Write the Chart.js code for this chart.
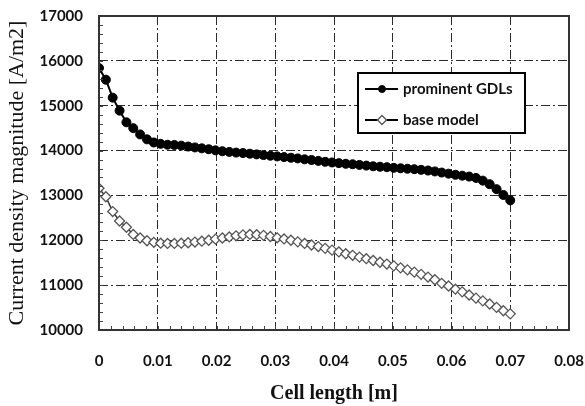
<!DOCTYPE html>
<html>
<head>
<meta charset="utf-8">
<script src="https://cdn.jsdelivr.net/npm/chart.js@4.4.0/dist/chart.umd.min.js"></script>
<style>
  html, body { margin: 0; padding: 0; background: #fff; }
  #wrap { width: 585px; height: 406px; }
</style>
</head>
<body>
<div id="wrap"><canvas id="chart" width="585" height="406"></canvas></div>
<script>
// --- Data ---
const cellLength = [0, 0.00117, 0.00233, 0.0035, 0.00467, 0.00583, 0.007, 0.00817, 0.00933, 0.0105,
  0.01167, 0.01283, 0.014, 0.01517, 0.01633, 0.0175, 0.01867, 0.01983, 0.021, 0.02217,
  0.02333, 0.0245, 0.02567, 0.02683, 0.028, 0.02917, 0.03033, 0.0315, 0.03267, 0.03383,
  0.035, 0.03617, 0.03733, 0.0385, 0.03967, 0.04083, 0.042, 0.04317, 0.04433, 0.0455,
  0.04667, 0.04783, 0.049, 0.05017, 0.05133, 0.0525, 0.05367, 0.05483, 0.056, 0.05717,
  0.05833, 0.0595, 0.06067, 0.06183, 0.063, 0.06417, 0.06533, 0.0665, 0.06767, 0.06883, 0.07];

const prominentGDLs = [15840, 15580, 15180, 14890, 14630, 14500, 14360, 14250, 14180, 14150,
  14130, 14125, 14110, 14090, 14070, 14050, 14030, 14005, 13985, 13970,
  13955, 13945, 13930, 13915, 13900, 13885, 13870, 13855, 13840, 13825,
  13805, 13790, 13770, 13750, 13735, 13720, 13705, 13695, 13680, 13665,
  13650, 13640, 13630, 13615, 13605, 13595, 13585, 13570, 13555, 13535,
  13510, 13485, 13460, 13440, 13420, 13390, 13330, 13250, 13140, 13010, 12890];

const baseModel = [13160, 12970, 12640, 12430, 12290, 12130, 12050, 11990, 11955, 11935,
  11930, 11930, 11935, 11945, 11960, 11980, 12000, 12025, 12050, 12075,
  12100, 12120, 12130, 12125, 12110, 12085, 12055, 12030, 12000, 11965,
  11930, 11895, 11860, 11820, 11780, 11740, 11700, 11665, 11625, 11590,
  11550, 11510, 11470, 11430, 11385, 11340, 11290, 11240, 11180, 11120,
  11040, 10980, 10910, 10850, 10780, 10710, 10650, 10580, 10505, 10430, 10360];

const xTicks = [0, 0.01, 0.02, 0.03, 0.04, 0.05, 0.06, 0.07, 0.08];
const xTickLabels = ['0', '0.01', '0.02', '0.03', '0.04', '0.05', '0.06', '0.07', '0.08'];
const yTicks = [10000, 11000, 12000, 13000, 14000, 15000, 16000, 17000];
const yTickLabels = ['10000', '11000', '12000', '13000', '14000', '15000', '16000', '17000'];
const xMinorStep = 0.002;
const yMinorStep = 200;

const seriesNames = ['prominent GDLs', 'base model'];

const tickFont = { family: 'Lato', size: 15, weight: 'bold' };
const gridColor = '#2a2a2a';

// --- Plugins: frame, minor ticks, legend box ---
const framePlugin = {
  id: 'frame',
  afterDatasetsDraw(chart) {
    const { ctx, chartArea: a, scales } = chart;
    ctx.save();
    // minor ticks on the left and bottom axes
    ctx.strokeStyle = '#444';
    ctx.lineWidth = 1;
    ctx.beginPath();
    for (let v = scales.x.min; v <= scales.x.max + 1e-9; v += xMinorStep) {
      const px = Math.round(scales.x.getPixelForValue(v)) + 0.5;
      ctx.moveTo(px, a.bottom);
      ctx.lineTo(px, a.bottom - 4);
    }
    for (let v = scales.y.min; v <= scales.y.max + 1e-6; v += yMinorStep) {
      const py = Math.round(scales.y.getPixelForValue(v)) + 0.5;
      ctx.moveTo(a.left, py);
      ctx.lineTo(a.left + 4, py);
    }
    ctx.stroke();
    // frame
    ctx.strokeStyle = '#333';
    ctx.lineWidth = 2;
    ctx.strokeRect(a.left, a.top, a.right - a.left, a.bottom - a.top);
    ctx.restore();
  },
  afterDraw(chart) {
    const { ctx } = chart;
    const box = { x: 358, y: 73, w: 167, h: 60 };
    ctx.save();
    ctx.fillStyle = '#fff';
    ctx.fillRect(box.x, box.y, box.w, box.h);
    ctx.strokeStyle = '#000';
    ctx.lineWidth = 2;
    ctx.strokeRect(box.x, box.y, box.w, box.h);
    const rows = [89, 120];
    chart.data.datasets.forEach((ds, i) => {
      const y = rows[i];
      ctx.strokeStyle = '#000';
      ctx.lineWidth = 2;
      ctx.beginPath();
      ctx.moveTo(365, y);
      ctx.lineTo(398, y);
      ctx.stroke();
      ctx.fillStyle = ds.pointBackgroundColor;
      ctx.strokeStyle = ds.pointBorderColor;
      ctx.lineWidth = ds.pointBorderWidth;
      Chart.helpers.drawPoint(ctx, {
        pointStyle: ds.pointStyle,
        radius: i === 0 ? 3.5 : 4.5,
        borderWidth: ds.pointBorderWidth
      }, 382, y);
      ctx.fillStyle = '#111';
      ctx.font = 'bold 15px Lato';
      ctx.textBaseline = 'middle';
      ctx.textAlign = 'left';
      ctx.fillText(ds.label, 403, y);
    });
    ctx.restore();
  }
};

const ctx = document.getElementById('chart');
new Chart(ctx, {
  type: 'line',
  data: {
    datasets: [{
      label: seriesNames[0],
      data: cellLength.map((x, i) => ({ x: x, y: prominentGDLs[i] })),
      borderColor: '#000',
      borderWidth: 2,
      pointStyle: 'circle',
      pointRadius: 4.5,
      pointBackgroundColor: '#000',
      pointBorderColor: '#000',
      pointBorderWidth: 1,
      tension: 0
    }, {
      label: seriesNames[1],
      data: cellLength.map((x, i) => ({ x: x, y: baseModel[i] })),
      borderColor: '#333',
      borderWidth: 1.5,
      pointStyle: 'rectRot',
      pointRadius: 5,
      pointBackgroundColor: '#fff',
      pointBorderColor: '#555',
      pointBorderWidth: 1.3,
      tension: 0
    }]
  },
  options: {
    responsive: false,
    animation: false,
    layout: { padding: { left: 0, right: 16, top: 16, bottom: 0 } },
    plugins: { legend: { display: false }, tooltip: { enabled: false } },
    scales: {
      x: {
        type: 'linear',
        min: 0,
        max: 0.08,
        afterBuildTicks: s => { s.ticks = xTicks.map(v => ({ value: v })); },
        afterFit: s => { s.height = 76; s.paddingLeft = 0; s.paddingRight = 0; },
        ticks: {
          autoSkip: false,
          maxRotation: 0,
          padding: 22,
          color: '#111',
          font: tickFont,
          callback: (v, i) => xTickLabels[i]
        },
        grid: { color: gridColor, lineWidth: 1, drawTicks: false },
        border: { display: false, dash: [9, 3, 2, 3] },
        title: {
          display: true,
          text: 'Cell length [m]',
          color: '#111',
          font: { family: 'Liberation Serif', size: 20, weight: 'bold' },
          padding: { top: 0, bottom: 0 }
        }
      },
      y: {
        min: 10000,
        max: 17000,
        afterBuildTicks: s => { s.ticks = yTicks.map(v => ({ value: v })); },
        afterFit: s => { s.width = 99; s.paddingTop = 0; s.paddingBottom = 0; },
        ticks: {
          autoSkip: false,
          padding: 16,
          color: '#111',
          font: tickFont,
          callback: (v, i) => yTickLabels[i]
        },
        grid: { color: gridColor, lineWidth: 1, drawTicks: false },
        border: { display: false, dash: [9, 3, 2, 3] },
        title: {
          display: true,
          text: 'Current density magnitude [A/m2]',
          color: '#111',
          font: { family: 'Liberation Serif', size: 22 },
          padding: { top: 4, bottom: 0 }
        }
      }
    }
  },
  plugins: [framePlugin]
});
</script>
</body>
</html>
